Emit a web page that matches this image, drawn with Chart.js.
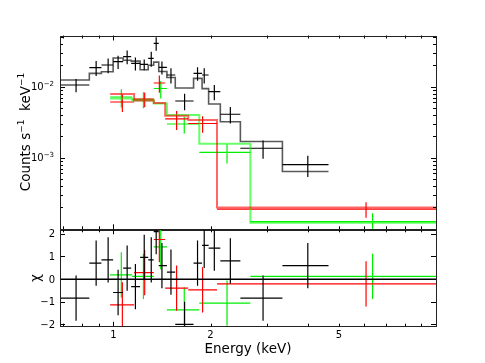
<!DOCTYPE html>
<html>
<head>
<meta charset="utf-8">
<script src="https://cdn.jsdelivr.net/npm/chart.js@4.4.0/dist/chart.umd.min.js"></script>
<style>
html, body { margin: 0; padding: 0; background: #fff; }
#quadro { position: relative; width: 485px; height: 363px; }
canvas { position: absolute; left: 0; top: 0; }
</style>
</head>
<body>
<div id="quadro">
<canvas id="graficoContagens" width="485" height="363"></canvas>
<canvas id="graficoResiduos" width="485" height="363"></canvas>
</div>
<script>
// limites dos eixos
const limiteEnergia = [0.683, 10];
const limiteTaxa = [9.8e-5, 0.0526];
const limiteChi = [-2.1, 2.2];

// série preta
const energiaPreto = [0.766, 0.884, 0.963, 1.034, 1.103, 1.170, 1.246, 1.310, 1.357, 1.414, 1.508, 1.662, 1.823, 1.912, 2.055, 2.304, 2.910, 4.005];
const bordasPreto = [0.683, 0.842, 0.918, 0.998, 1.072, 1.135, 1.210, 1.282, 1.333, 1.382, 1.465, 1.555, 1.772, 1.883, 1.973, 2.145, 2.475, 3.341, 4.643];
const taxaPreto = [0.01057, 0.01852, 0.02020, 0.02249, 0.02646, 0.02136, 0.02067, 0.02512, 0.04087, 0.01876, 0.01462, 0.00629, 0.01544, 0.01462, 0.00850, 0.00409, 0.001357, 0.000797];
const erroPreto = [0.00225, 0.00443, 0.00469, 0.0048, 0.00575, 0.0045, 0.00356, 0.006, 0.00887, 0.00394, 0.0035, 0.00165, 0.00335, 0.0035, 0.00204, 0.00107, 0.000393, 0.000264];
const modeloPreto = [0.0124, 0.0154, 0.0162, 0.0253, 0.0236, 0.0229, 0.0173, 0.0200, 0.0222, 0.0164, 0.0135, 0.0096, 0.0131, 0.0094, 0.0057, 0.0032, 0.00169, 0.00064];
const chiPreto = [-0.84, 0.71, 0.85, -0.59, 0.49, -0.33, 0.96, 0.85, 2.1, 0.6, 0.31, -2.0, 0.71, 1.49, 1.37, 0.81, -0.84, 0.6];

// série vermelha
const energiaVermelho = [1.066, 1.250, 1.388, 1.570, 1.890, 6.07];
const bordasVermelho = [0.977, 1.159, 1.334, 1.447, 1.706, 2.095, 10.0];
const taxaVermelho = [0.00609, 0.00671, 0.01127, 0.00351, 0.00303, 0.000189];
const erroVermelho = [0.00169, 0.00158, 0.00306, 0.00105, 0.00079, 0.000046];
const modeloVermelho = [0.0079, 0.0064, 0.0059, 0.0039, 0.0034, 0.000198];
const chiVermelho = [-1.14, 0.29, 1.75, -0.40, -0.47, -0.21];

// série verde
const energiaVerde = [1.058, 1.239, 1.402, 1.658, 2.250, 6.36];
const bordasVerde = [0.977, 1.143, 1.334, 1.465, 1.846, 2.658, 10.0];
const taxaVerde = [0.00716, 0.00665, 0.00943, 0.00298, 0.00119, 0.000126];
const erroVerde = [0.00207, 0.00169, 0.00264, 0.00079, 0.00036, 0.000039];
const modeloVerde = [0.0068, 0.0064, 0.0058, 0.0040, 0.00157, 0.000121];
const chiVerde = [0.19, 0.12, 1.42, -1.36, -1.06, 0.12];

// marcas dos eixos
const ticksEnergia = [1, 2, 5];
const rotulosEnergia = ['1', '2', '5'];
const ticksEnergiaMaiores = [1];
const ticksEnergiaMenores = [0.7, 0.8, 0.9, 2, 3, 4, 5, 6, 7, 8, 9];
const ticksTaxa = [1e-3, 1e-2];
const rotulosTaxa = ['−3', '−2'];
const decadasTaxa = [1e-4, 1e-3, 1e-2];
const ticksChi = [-2, -1, 0, 1, 2];
const rotulosChi = ['−2', '−1', '0', '1', '2'];

const FONTE = '"DejaVu Sans", sans-serif';

// cruzes de dados: barra horizontal = largura do bin, vertical = erro
function cruzes(energia, bordas, valor, erro) {
    const pts = [];
    energia.forEach((e, i) => {
        pts.push({ x: bordas[i], y: valor[i] }, { x: bordas[i + 1], y: valor[i] }, { x: e, y: null });
        pts.push({ x: e, y: valor[i] - erro[i] }, { x: e, y: valor[i] + erro[i] }, { x: e, y: null });
    });
    return pts;
}

// modelo em degraus (histograma)
function degraus(bordas, modelo) {
    const pts = [];
    modelo.forEach((m, i) => {
        pts.push({ x: bordas[i], y: m }, { x: bordas[i + 1], y: m });
    });
    return pts;
}

function serie(data, cor, largura) {
    return { data, borderColor: cor, borderWidth: largura, fill: false, pointRadius: 0, spanGaps: false, tension: 0 };
}

function tracar(ctx, x1, y1, x2, y2) {
    ctx.beginPath();
    ctx.moveTo(x1, y1);
    ctx.lineTo(x2, y2);
    ctx.stroke();
}

// texto com partes sobrescritas: [[texto, sobrescrito]]
function textoPartes(ctx, partes, x, y, tam, alinhamento) {
    const tamSup = Math.round(tam * 0.7);
    let total = 0;
    partes.forEach(([t, s]) => {
        ctx.font = (s ? tamSup : tam) + 'px ' + FONTE;
        total += ctx.measureText(t).width;
    });
    let px = alinhamento === 'right' ? x - total : alinhamento === 'center' ? x - total / 2 : x;
    ctx.textAlign = 'left';
    ctx.textBaseline = 'alphabetic';
    partes.forEach(([t, s]) => {
        ctx.font = (s ? tamSup : tam) + 'px ' + FONTE;
        ctx.fillText(t, px, s ? y - tam * 0.42 : y);
        px += ctx.measureText(t).width;
    });
}

const r = v => Math.round(v) + 0.5;

const eixosContagens = {
    id: 'eixosContagens',
    afterDatasetsDraw(chart) {
        const { ctx, chartArea: a, scales: { x, y } } = chart;
        ctx.save();
        ctx.strokeStyle = '#000';
        ctx.lineWidth = 1;
        ticksEnergiaMenores.forEach(v => {
            const px = r(x.getPixelForValue(v));
            tracar(ctx, px, a.top, px, a.top + 3);
            tracar(ctx, px, a.bottom, px, a.bottom - 3);
        });
        ticksEnergiaMaiores.forEach(v => {
            const px = r(x.getPixelForValue(v));
            tracar(ctx, px, a.top, px, a.top + 5);
            tracar(ctx, px, a.bottom, px, a.bottom - 5);
        });
        decadasTaxa.forEach(d => {
            [2, 3, 4, 5, 6, 7, 8, 9].forEach(m => {
                const v = d * m;
                if (v > limiteTaxa[1] || v < limiteTaxa[0]) return;
                const py = r(y.getPixelForValue(v));
                tracar(ctx, a.left, py, a.left + 3, py);
                tracar(ctx, a.right, py, a.right - 3, py);
            });
        });
        ticksTaxa.forEach(v => {
            const py = r(y.getPixelForValue(v));
            tracar(ctx, a.left, py, a.left + 5, py);
            tracar(ctx, a.right, py, a.right - 5, py);
        });
        ctx.strokeStyle = '#222';
        ctx.strokeRect(r(a.left), r(a.top), Math.round(a.right - a.left), Math.round(a.bottom - a.top));
        ctx.fillStyle = '#000';
        ticksTaxa.forEach((v, i) => {
            const py = y.getPixelForValue(v);
            textoPartes(ctx, [['10', false], [rotulosTaxa[i], true]], a.left - 6, py + 3.5, 10, 'right');
        });
        ctx.save();
        ctx.translate(25, 132);
        ctx.rotate(-Math.PI / 2);
        textoPartes(ctx, [['Counts s', false], ['−1', true], ['  keV', false], ['−1', true]], 0, 5, 13.5, 'center');
        ctx.restore();
        ctx.restore();
    }
};

const eixosResiduos = {
    id: 'eixosResiduos',
    afterDatasetsDraw(chart) {
        const { ctx, chartArea: a, scales: { x, y } } = chart;
        ctx.save();
        ctx.strokeStyle = '#000';
        ctx.lineWidth = 1;
        ticksEnergiaMenores.forEach(v => {
            const px = r(x.getPixelForValue(v));
            tracar(ctx, px, a.top, px, a.top + 3);
            tracar(ctx, px, a.bottom, px, a.bottom - 3);
        });
        ticksEnergiaMaiores.forEach(v => {
            const px = r(x.getPixelForValue(v));
            tracar(ctx, px, a.top, px, a.top + 5);
            tracar(ctx, px, a.bottom, px, a.bottom - 5);
        });
        ticksChi.forEach(v => {
            const py = r(y.getPixelForValue(v));
            tracar(ctx, a.left, py, a.left + 5, py);
            tracar(ctx, a.right, py, a.right - 5, py);
        });
        ctx.strokeStyle = '#222';
        ctx.strokeRect(r(a.left), r(a.top), Math.round(a.right - a.left), Math.round(a.bottom - a.top));
        ctx.fillStyle = '#000';
        ctx.font = '10px ' + FONTE;
        ctx.textAlign = 'center';
        ctx.textBaseline = 'alphabetic';
        ticksEnergia.forEach((v, i) => {
            ctx.fillText(rotulosEnergia[i], x.getPixelForValue(v), a.bottom + 11);
        });
        ctx.textAlign = 'right';
        ticksChi.forEach((v, i) => {
            ctx.fillText(rotulosChi[i], a.left - 5, y.getPixelForValue(v) + 3.6);
        });
        ctx.font = '13.5px ' + FONTE;
        ctx.textAlign = 'center';
        ctx.fillText('Energy (keV)', (a.left + a.right) / 2, 352.5);
        ctx.save();
        ctx.translate(36, 278);
        ctx.rotate(-Math.PI / 2);
        ctx.textBaseline = 'middle';
        ctx.fillText('χ', 0, 0);
        ctx.restore();
        ctx.restore();
    }
};

function opcoes(padding, escalaY) {
    return {
        responsive: false,
        animation: false,
        devicePixelRatio: 1,
        layout: { padding },
        plugins: { legend: { display: false }, tooltip: { enabled: false } },
        scales: {
            x: { type: 'logarithmic', min: limiteEnergia[0], max: limiteEnergia[1], display: false },
            y: Object.assign({ display: false }, escalaY)
        }
    };
}

new Chart(document.getElementById('graficoContagens').getContext('2d'), {
    type: 'line',
    data: {
        datasets: [
            serie(degraus(bordasPreto, modeloPreto), 'rgba(0,0,0,0.65)', 1.6),
            serie(degraus(bordasVermelho, modeloVermelho), 'rgba(255,0,0,0.6)', 2),
            serie(degraus(bordasVerde, modeloVerde), 'rgba(0,255,0,0.6)', 2),
            serie(cruzes(energiaPreto, bordasPreto, taxaPreto, erroPreto), '#000', 1.2),
            serie(cruzes(energiaVermelho, bordasVermelho, taxaVermelho, erroVermelho), '#ff0000', 1.2),
            serie(cruzes(energiaVerde, bordasVerde, taxaVerde, erroVerde), '#00ee00', 1.2)
        ]
    },
    options: opcoes({ left: 60, right: 49, top: 35.5, bottom: 133.7 },
        { type: 'logarithmic', min: limiteTaxa[0], max: limiteTaxa[1] }),
    plugins: [eixosContagens]
});

const umSigma = v => v.map(() => 1);

new Chart(document.getElementById('graficoResiduos').getContext('2d'), {
    type: 'line',
    data: {
        datasets: [
            serie([{ x: limiteEnergia[0], y: 0 }, { x: limiteEnergia[1], y: 0 }], '#000', 1.5),
            serie(cruzes(energiaPreto, bordasPreto, chiPreto, umSigma(chiPreto)), '#000', 1.2),
            serie(cruzes(energiaVermelho, bordasVermelho, chiVermelho, umSigma(chiVermelho)), '#ff0000', 1.2),
            serie(cruzes(energiaVerde, bordasVerde, chiVerde, umSigma(chiVerde)), '#00ee00', 1.2)
        ]
    },
    options: opcoes({ left: 60, right: 49, top: 229.3, bottom: 36.3 },
        { type: 'linear', min: limiteChi[0], max: limiteChi[1] }),
    plugins: [eixosResiduos]
});
</script>
</body>
</html>
